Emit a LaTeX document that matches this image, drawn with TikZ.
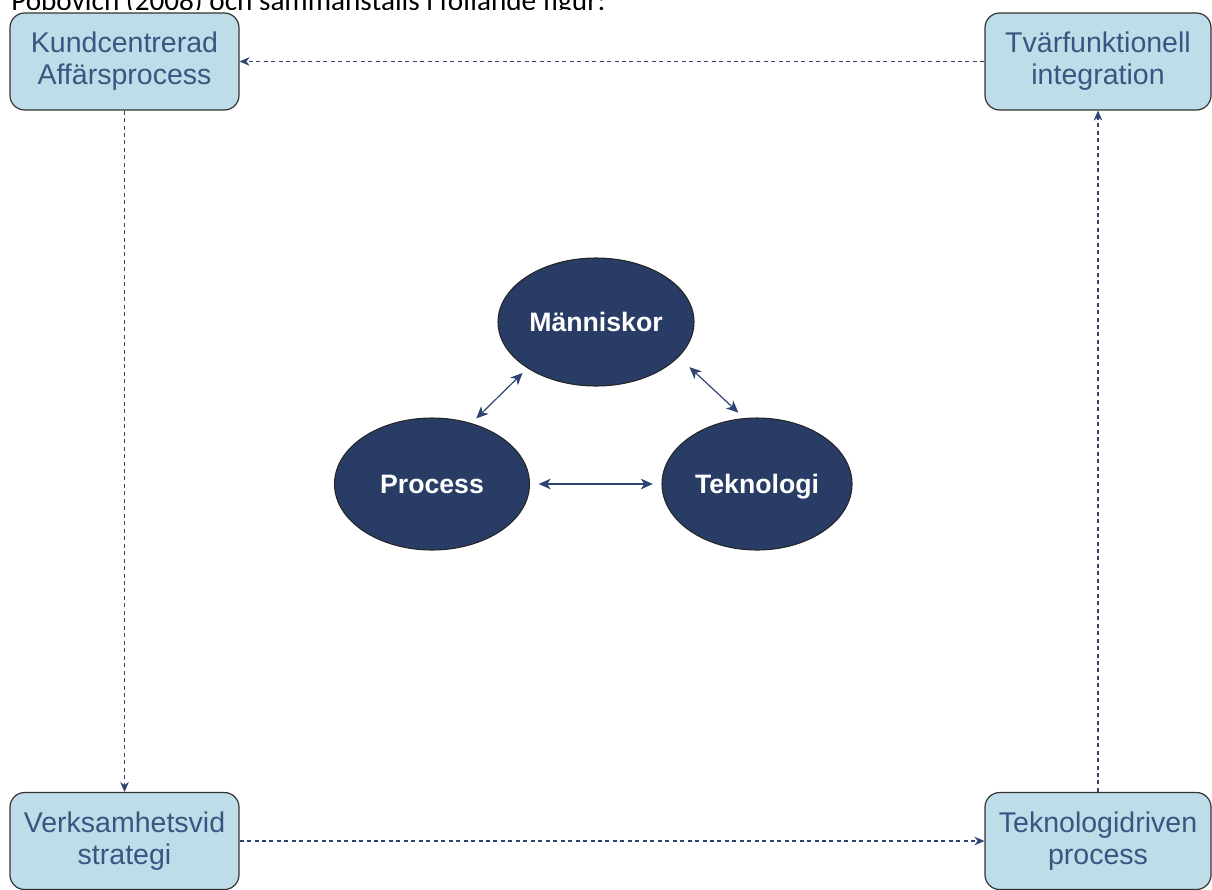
\documentclass[tikz,border=0pt]{standalone}
\usepackage{fontspec}
\setmainfont{Liberation Sans}
\newfontfamily\bodyfont{Carlito}
\usetikzlibrary{shapes.geometric,arrows.meta}
\definecolor{boxfill}{HTML}{BEDDE8}
\definecolor{boxtext}{HTML}{3B5583}
\definecolor{navy}{HTML}{283C66}
\definecolor{linkcol}{HTML}{2E4472}
\begin{document}
\begin{tikzpicture}[x=0.75pt,y=-0.75pt,
  stagebox/.style={draw=black!80, line width=0.9pt, fill=boxfill,
    rounded corners=11pt, minimum width=171.75pt, minimum height=72.75pt,
    align=center, text=boxtext, inner sep=0pt,
    font=\fontsize{21.4}{24}\selectfont},
  pillar/.style={ellipse, draw=black!85, line width=0.8pt, fill=navy,
    text=white, inner sep=0pt, text height=14.3pt, text depth=0pt,
    font=\bfseries\fontsize{20}{23}\selectfont},
  flow/.style={draw=linkcol, line width=0.9pt, dash pattern=on 3pt off 2.6pt,
    -{Stealth[length=7.5pt,width=6.5pt]}},
  link/.style={draw=linkcol, line width=0.9pt,
    {Stealth[length=9pt,width=8pt,inset=2.6pt]}-{Stealth[length=9pt,width=8pt,inset=2.6pt]}}
]
\useasboundingbox (0,0) rectangle (1212,889);

% running text of the page, partly hidden behind the figure
\begin{scope}
  \clip (0,0) rectangle (1212,9);
  \node[anchor=base west, inner sep=0pt, font=\bodyfont\fontsize{21.9}{26}\selectfont]
    (intro) at (11,10) {Popovich (2008) och sammanställs i följande figur:};
\end{scope}

% the four stages around the frame
\node[stagebox] (kund) at (124.5,61.5) {Kundcentrerad\\Affärsprocess};
\node[stagebox, minimum width=169.5pt] (tvar) at (1098,61.5) {Tvärfunktionell\\integration};
\node[stagebox] (verk) at (124.5,841) {Verksamhetsvid\\strategi};
\node[stagebox, minimum width=169.5pt] (tekp) at (1098,841) {Teknologidriven\\process};

\draw[flow] (tvar.west) -- (kund.east);
\draw[flow] (kund.south) -- (verk.north);
\draw[flow] (verk.east) -- (tekp.west);
\draw[flow] (tekp.north) -- (tvar.south);

% the three pillars in the middle
\node[pillar, minimum width=147pt, minimum height=96pt] (man) at (596,322) {Människor};
\node[pillar, minimum width=146.25pt, minimum height=99pt] (proc) at (432,484) {Process};
\node[pillar, minimum width=142.5pt, minimum height=99pt] (tekn) at (757,484) {Teknologi};

\draw[link, shorten <=5pt, shorten >=5pt] (proc.57) -- (man.214);
\draw[link, shorten <=11pt, shorten >=6pt] (man.337) -- (tekn.101);
\draw[link, shorten <=6.5pt, shorten >=6.5pt] (proc.east) -- (tekn.west);
\end{tikzpicture}
\end{document}
